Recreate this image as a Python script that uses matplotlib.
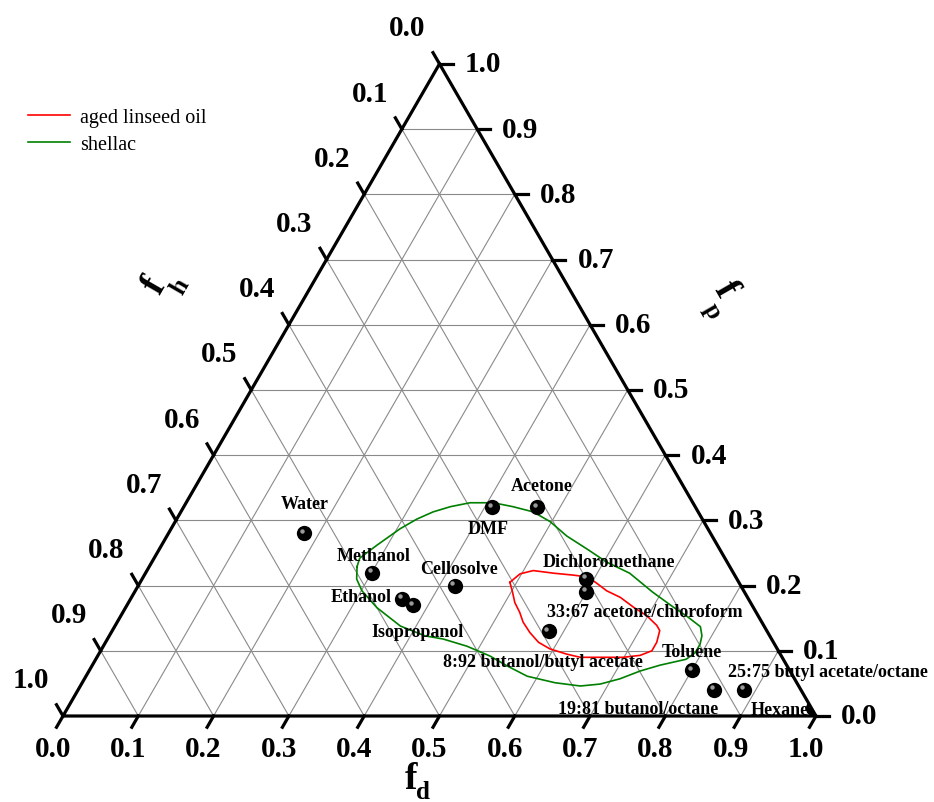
import numpy as np
import matplotlib
matplotlib.use('Agg')
import matplotlib.pyplot as plt
from matplotlib.patches import Polygon
import matplotlib.transforms as mtransforms

plt.rcParams['font.family'] = ['Liberation Serif', 'DejaVu Serif']

# ---------------- data ----------------
solvents = ['Water', 'Methanol', 'Ethanol', 'Isopropanol', 'Cellosolve', 'DMF',
            'Acetone', 'Dichloromethane', '33:67 acetone/chloroform',
            '8:92 butanol/butyl acetate', 'Toluene', '19:81 butanol/octane',
            '25:75 butyl acetate/octane', 'Hexane']
solvent_fd = [0.18, 0.30, 0.36, 0.38, 0.42, 0.41, 0.47, 0.59, 0.60, 0.58, 0.80, 0.845, 0.885, 0.99]
solvent_fp = [0.28, 0.22, 0.18, 0.17, 0.20, 0.32, 0.32, 0.21, 0.19, 0.13, 0.07, 0.04, 0.04, 0.012]

linseed_fd = [0.491, 0.498, 0.513, 0.542, 0.570, 0.591, 0.608, 0.626, 0.649, 0.674, 0.698, 0.719,
              0.727, 0.732, 0.732, 0.720, 0.699, 0.673, 0.642, 0.621, 0.595, 0.575, 0.556, 0.539,
              0.527, 0.513, 0.502]
linseed_fp = [0.205, 0.218, 0.223, 0.219, 0.216, 0.213, 0.203, 0.192, 0.182, 0.167, 0.154, 0.139,
              0.131, 0.113, 0.100, 0.093, 0.090, 0.090, 0.090, 0.095, 0.103, 0.113, 0.128, 0.144,
              0.159, 0.174, 0.190]

shellac_fd = [0.276, 0.273, 0.286, 0.304, 0.319, 0.335, 0.354, 0.377, 0.408, 0.437, 0.468, 0.498,
              0.531, 0.568, 0.604, 0.643, 0.688, 0.727, 0.752, 0.778, 0.787, 0.791, 0.791, 0.784,
              0.754, 0.732, 0.711, 0.689, 0.664, 0.628, 0.586, 0.551, 0.521, 0.483, 0.446, 0.419,
              0.379, 0.334, 0.301, 0.285]
shellac_fp = [0.229, 0.242, 0.262, 0.287, 0.302, 0.313, 0.321, 0.327, 0.327, 0.321, 0.313, 0.298,
              0.276, 0.256, 0.236, 0.219, 0.190, 0.167, 0.153, 0.137, 0.123, 0.110, 0.097, 0.087,
              0.078, 0.069, 0.057, 0.049, 0.046, 0.051, 0.061, 0.077, 0.092, 0.107, 0.118, 0.123,
              0.138, 0.166, 0.192, 0.210]

series_names = ['aged linseed oil', 'shellac']
tick_values = [0.0, 0.1, 0.2, 0.3, 0.4, 0.5, 0.6, 0.7, 0.8, 0.9, 1.0]
tick_labels = ['0.0', '0.1', '0.2', '0.3', '0.4', '0.5', '0.6', '0.7', '0.8', '0.9', '1.0']
axis_names = [('f', 'd'), ('f', 'h'), ('f', 'p')]

# ---------------- layout ----------------
S = np.sqrt(3) / 2
PX = 1 / 753.0  # data units per pixel


def tern(fd, fp):
    fd = np.asarray(fd, dtype=float)
    fp = np.asarray(fp, dtype=float)
    return fd + fp / 2, fp * S


def pix(px, py):
    return (px - 63) * PX, (717 - py) * PX


fig = plt.figure(figsize=(9.34, 8.03), dpi=100)
ax = fig.add_axes([0, 0, 1, 1])
ax.set_xlim(-63 * PX, 871 * PX)
ax.set_ylim(-86 * PX, 717 * PX)
ax.axis('off')

# grid
gcol = '#8a8a8a'
for v in tick_values[1:-1]:
    for (a, b) in [((0, v), (1 - v, v)),            # constant fp
                   ((v, 0), (v, 1 - v)),            # constant fd
                   ((1 - v, 0), (0, 1 - v))]:       # constant fh
        x, y = tern([a[0], b[0]], [a[1], b[1]])
        ax.plot(x, y, color=gcol, lw=0.8, zorder=1)

# triangle outline
tx, ty = tern([0, 1, 0, 0], [0, 0, 1, 0])
ax.plot(tx, ty, color='black', lw=2.3, zorder=5, solid_joinstyle='miter')
tri_patch = Polygon(np.column_stack([tx[:3], ty[:3]]), closed=True, transform=ax.transData,
                    facecolor='none', edgecolor='none')
ax.add_patch(tri_patch)

# ticks & tick labels
L = 13 * PX
tfont = dict(fontsize=21, fontweight='bold', family='Liberation Serif')
for v, lab in zip(tick_values, tick_labels):
    # bottom f_d
    x0, y0 = tern(v, 0)
    ax.plot([x0, x0 - 0.5 * L], [y0, y0 - S * L], color='black', lw=2.3, zorder=5)
    ax.text(x0 - 10 * PX, y0 - 33 * PX, lab, ha='center', va='center', **tfont)
    # right f_p
    x0, y0 = tern(1 - v, v)
    ax.plot([x0, x0 + L], [y0, y0], color='black', lw=2.3, zorder=5)
    ax.text(x0 + 25 * PX, y0, lab, ha='left', va='center', **tfont)
    # left f_h
    x0, y0 = tern(0, 1 - v)
    ax.plot([x0, x0 - 0.5 * L], [y0, y0 + S * L], color='black', lw=2.3, zorder=5)
    ax.text(x0 - 32 * PX, y0 + 36 * PX, lab, ha='center', va='center', **tfont)

# axis titles (main letter + dropped subscript)
title_pos = [((411, 780), 0, 13), ((155, 286), 60, 22), ((725, 290), -60, 22)]
for (main, sub), ((cx, cy), rot, b) in zip(axis_names, title_pos):
    X, Y = pix(cx, cy)
    th = np.deg2rad(rot)
    a = 12
    dx = a * np.cos(th) + b * np.sin(th)
    dy = a * np.sin(th) - b * np.cos(th)
    ax.text(X, Y, main, fontsize=27, fontweight='bold', ha='center', va='center',
            rotation=rot, rotation_mode='anchor')
    ax.text(X + dx * PX, Y + dy * PX, sub, fontsize=18, fontweight='bold', ha='center',
            va='center', rotation=rot, rotation_mode='anchor')

# contours
lx, ly = tern(linseed_fd + linseed_fd[:1], linseed_fp + linseed_fp[:1])
red_line, = ax.plot(lx, ly, color='#ff0000', lw=1.2, zorder=3, solid_joinstyle='round')
sx, sy = tern(shellac_fd + shellac_fd[:1], shellac_fp + shellac_fp[:1])
green_line, = ax.plot(sx, sy, color='#008000', lw=1.2, zorder=3, solid_joinstyle='round')

# solvent points (spheres)
px_, py_ = tern(solvent_fd, solvent_fp)
sc = ax.scatter(px_, py_, s=11 ** 2, color='black', zorder=4, linewidths=0)
sc.set_clip_path(tri_patch)
hl_trans = mtransforms.offset_copy(ax.transData, fig=fig, x=-2.2, y=2.6, units='dots')
hl = ax.scatter(px_, py_, s=3.2 ** 2, color='#9a9a9a', zorder=4.1, linewidths=0,
                transform=hl_trans)
hl.set_clip_path(tri_patch)

# labels: (dx, dy pixels, ha)
label_offsets = [(1, 30, 'center'), (2, 17, 'center'), (-10, 2, 'right'), (4, -26, 'center'),
                 (4, 17, 'center'), (-4, -21, 'center'), (4, 22, 'center'), (23, 18, 'center'),
                 (-39, -19, 'left'), (-6, -30, 'center'), (0, 19, 'center'), (-76, -19, 'center'),
                 (-16, 18, 'left'), (-33, -1, 'center')]
for name, x, y, (dx, dy, ha) in zip(solvents, px_, py_, label_offsets):
    ax.annotate(name, (x, y), xytext=(dx, dy), textcoords='offset pixels', ha=ha, va='center',
                fontsize=13, fontweight='bold', family='Liberation Serif', zorder=6)

# legend
ax.legend([red_line, green_line], series_names, loc='upper left',
          bbox_to_anchor=(22 / 934, 1 - 103 / 803), frameon=False, fontsize=14.5,
          handlelength=2.1, handletextpad=0.5, labelspacing=0.4, borderaxespad=0,
          borderpad=0.3)

fig.savefig('out.png', dpi=100)
